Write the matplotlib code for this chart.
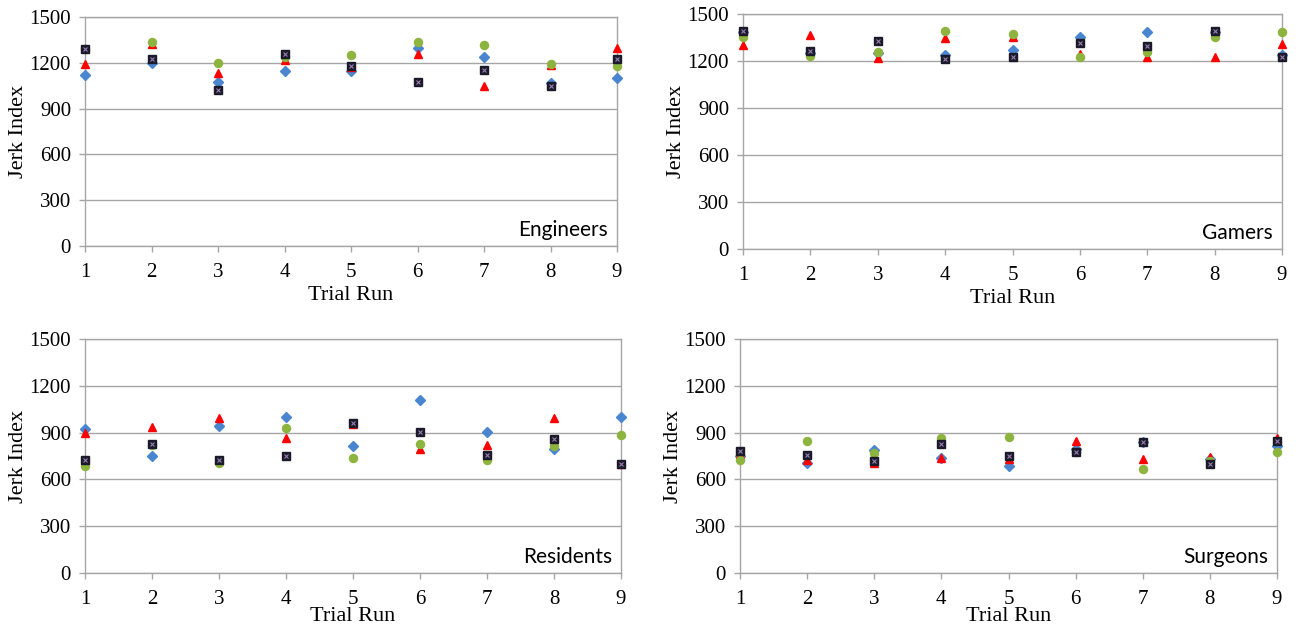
import matplotlib
matplotlib.use("Agg")
import matplotlib.pyplot as plt

trials = [1, 2, 3, 4, 5, 6, 7, 8, 9]
yticks = [0, 300, 600, 900, 1200, 1500]
groups = ["Engineers", "Gamers", "Residents", "Surgeons"]

eng_blue = [1122, 1198, 1075, 1146, 1148, 1295, 1239, 1068, 1101]
eng_red = [1190, 1321, 1131, 1217, 1170, 1256, 1051, 1183, 1295]
eng_green = [1288, 1336, 1200, 1241, 1250, 1336, 1317, 1191, 1176]
eng_black = [1291, 1228, 1021, 1258, 1181, 1071, 1153, 1051, 1228]

gam_blue = [1385, 1250, 1250, 1236, 1270, 1355, 1385, 1382, 1240]
gam_red = [1304, 1364, 1221, 1347, 1355, 1245, 1228, 1223, 1309]
gam_green = [1355, 1230, 1255, 1394, 1372, 1223, 1257, 1351, 1387]
gam_black = [1394, 1266, 1326, 1211, 1228, 1313, 1298, 1392, 1228]

res_blue = [923, 748, 943, 998, 812, 1109, 906, 793, 1002]
res_red = [900, 938, 992, 868, 955, 795, 821, 992, 700]
res_green = [689, 820, 708, 932, 740, 827, 725, 815, 885]
res_black = [723, 825, 725, 753, 960, 906, 755, 859, 699]

sur_blue = [750, 705, 786, 740, 688, 795, 840, 729, 812]
sur_red = [761, 722, 705, 735, 733, 846, 731, 744, 866]
sur_green = [722, 844, 771, 868, 872, 775, 666, 715, 778]
sur_black = [782, 754, 716, 825, 750, 778, 840, 701, 844]

data = [
    (eng_blue, eng_red, eng_green, eng_black),
    (gam_blue, gam_red, gam_green, gam_black),
    (res_blue, res_red, res_green, res_black),
    (sur_blue, sur_red, sur_green, sur_black),
]

W, H = 1299, 626
# pixel boxes: left, right, top, bottom
boxes = [
    (85, 617, 17, 246),
    (743, 1282, 14, 249),
    (85, 621, 339, 573),
    (740, 1277, 339, 573),
]
xlabel_pads = [3, 3, -1.5, -1.5]

fig = plt.figure(figsize=(W / 100, H / 100), dpi=100)
serif = ["Liberation Serif", "DejaVu Serif"]
grid_c = "#a6a6a6"

for name, (l, r, t, b), (bl, rd, gr, bk), xpad in zip(groups, boxes, data, xlabel_pads):
    ax = fig.add_axes([l / W, 1 - b / H, (r - l) / W, (b - t) / H])
    ax.set_xlim(1, 9)
    ax.set_ylim(0, 1500)
    ax.set_yticks(yticks)
    ax.set_xticks(trials)
    ax.yaxis.grid(True, color=grid_c, linewidth=1.0)
    ax.set_axisbelow(True)
    for s in ax.spines.values():
        s.set_color(grid_c)
        s.set_linewidth(1.0)
    ax.tick_params(axis="both", colors=grid_c, length=4, width=1.0,
                   labelcolor="black", labelsize=15)
    for lab in ax.get_xticklabels() + ax.get_yticklabels():
        lab.set_family(serif)
    ax.tick_params(axis="x", pad=8)
    ax.tick_params(axis="y", pad=6)

    kw = dict(linestyle="none", clip_on=False, zorder=3)
    ax.plot(trials, bl, marker="D", markersize=4.8, color="#4a86d0", **kw)
    ax.plot(trials, rd, marker="^", markersize=5.8, color="#ff0000", **kw)
    ax.plot(trials, gr, marker="o", markersize=5.8, color="#8db43e", **kw)
    ax.plot(trials, bk, marker="s", markersize=5.8, color="#1a1a2a", **kw)
    ax.plot(trials, bk, marker="x", markersize=3.2, color="#9a7fb0",
            markeredgewidth=0.8, linestyle="none", clip_on=False, zorder=4)

    ax.set_ylabel("Jerk Index", family=serif, fontsize=16, labelpad=1)
    ax.set_xlabel("Trial Run", family=serif, fontsize=16, labelpad=xpad)
    ax.text(0.983, 0.043, name, transform=ax.transAxes, ha="right",
            va="baseline", fontsize=15, family=["Lato", "DejaVu Sans"])

fig.savefig("out.png", dpi=100)
